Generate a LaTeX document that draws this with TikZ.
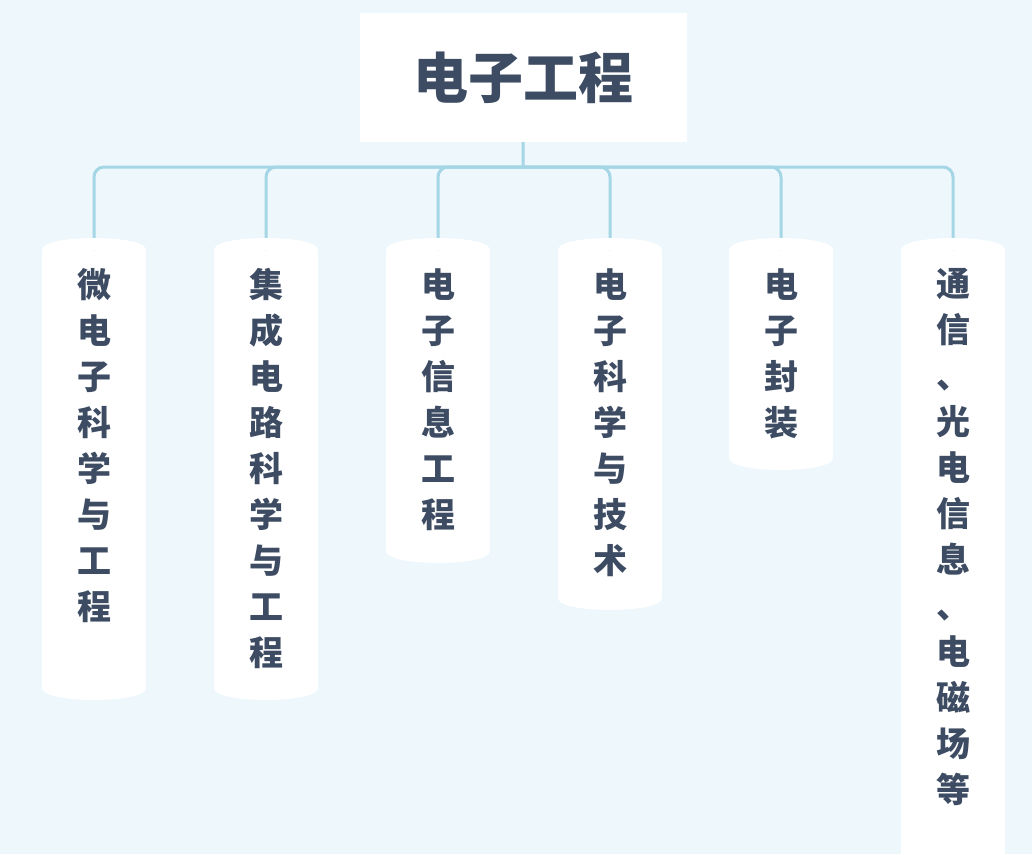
\documentclass[tikz,border=0pt]{standalone}
\usepackage{fontspec}
\newfontfamily\cjk{Noto Sans CJK SC}
\usetikzlibrary{positioning}
\definecolor{ink}{HTML}{3D4C63}
\definecolor{wirec}{HTML}{A5D6E6}
\definecolor{paper}{HTML}{EEF7FB}

\begin{document}
\begin{tikzpicture}[x=1pt,y=-1pt]
\tikzstyle{head}=[rectangle, fill=white, minimum width=327pt, minimum height=129pt, inner sep=0pt, font=\cjk\bfseries\fontsize{55}{60}\selectfont, text=ink]
\tikzstyle{col}=[rectangle, fill=white, minimum width=104pt, inner sep=0pt, anchor=north]
\tikzstyle{word}=[font=\cjk\bfseries\fontsize{34}{46}\selectfont, text=ink, align=center, anchor=north, inner sep=0pt]
\tikzstyle{wire}=[line width=3pt, draw=wirec, rounded corners=10pt]

\fill[paper] (0,0) rectangle (1032,854);
\useasboundingbox (0,0) rectangle (1032,854);

	\node[head] (root) at (523.5,77.5) {电子工程};
	\coordinate (hub) at (523,167);

	\node[col, minimum height=438pt] (c1) at (94,250) {};
	\node[col, minimum height=438pt] (c2) at (266,250) {};
	\node[col, minimum height=301pt] (c3) at (438,250) {};
	\node[col, minimum height=348pt] (c4) at (610,250) {};
	\node[col, minimum height=208pt] (c5) at (781,250) {};
	\node[col, minimum height=620pt] (c6) at (953,250) {};

	\node[word] (w1) at (94,268) {微\\电\\子\\科\\学\\与\\工\\程};
	\node[word] (w2) at (266,268) {集\\成\\电\\路\\科\\学\\与\\工\\程};
	\node[word] (w3) at (438,268) {电\\子\\信\\息\\工\\程};
	\node[word] (w4) at (610,268) {电\\子\\科\\学\\与\\技\\术};
	\node[word] (w5) at (781,268) {电\\子\\封\\装};
	\node[word] (w6) at (953,268) {通\\信\\、\\光\\电\\信\\息\\、\\电\\磁\\场\\等};

	\draw[wire] (root) -- (hub);
	\foreach \c in {c1,c2,c3,c4,c5,c6}
		\draw[wire] (hub) -| (\c.north);

	% rounded caps of the columns
	\foreach \c in {c1,c2,c3,c4,c5,c6}
		\fill[white] (\c.north west) .. controls +(0,-16) and +(0,-16) .. (\c.north east) -- cycle;
	\foreach \c in {c1,c2,c3,c4,c5}
		\fill[white] (\c.south west) .. controls +(0,16) and +(0,16) .. (\c.south east) -- cycle;

\end{tikzpicture}
\end{document}
